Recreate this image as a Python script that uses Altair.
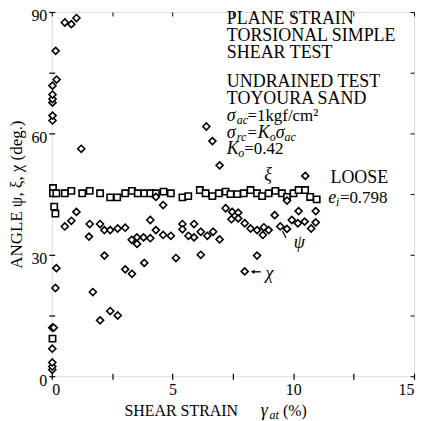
import altair as alt
import pandas as pd

# ---- data ----
xi_x = [0.03, 0.05, 0.05, 0.10, 0.15, 0.19, 0.54, 0.81, 1.26, 1.57, 2.00, 2.42, 2.71, 3.04, 3.32,
        3.56, 3.83, 4.08, 4.31, 4.63, 4.93, 5.41, 5.65, 6.13, 6.37, 6.65, 6.92, 7.20, 7.40, 7.68,
        7.95, 8.23, 8.50, 8.71, 8.98, 9.26, 9.53, 9.74, 10.01, 10.22, 10.49, 10.70, 10.97]
xi_y = [9.3, 46.5, 45.2, 41.9, 40.2, 45.2, 45.2, 45.8, 45.2, 45.8, 45.2, 44.2, 44.2, 45.2, 45.8,
        45.2, 45.2, 45.2, 45.2, 45.6, 45.2, 44.2, 44.5, 46.0, 45.2, 44.5, 45.2, 45.6, 45.0, 45.0,
        45.2, 46.0, 45.2, 44.5, 45.2, 45.8, 45.2, 44.3, 45.2, 46.0, 46.0, 44.3, 43.7]

psi_x = [0.54, 0.81, 1.02, 1.54, 1.57, 2.00, 2.18, 2.42, 2.73, 3.04, 3.31, 3.53, 3.53, 3.80, 4.08,
         4.08, 4.31, 4.31, 4.61, 4.61, 4.93, 5.41, 5.41, 5.66, 5.89, 5.89, 6.17, 6.44, 6.68, 6.95,
         7.20, 7.44, 7.47, 7.72, 7.72, 7.99, 8.23, 8.50, 8.74, 8.78, 8.98, 9.23, 9.46, 9.74, 9.74,
         9.94, 10.19, 10.22, 10.47, 10.74, 10.93, 10.93]
psi_y = [37.0, 38.4, 40.6, 34.5, 37.6, 37.6, 36.1, 36.1, 36.5, 36.7, 33.7, 34.3, 32.7, 34.3, 34.1,
         38.6, 36.1, 44.3, 34.9, 42.3, 34.7, 37.6, 36.3, 34.7, 37.6, 34.3, 35.7, 34.7, 35.7, 33.8,
         41.5, 38.8, 40.6, 40.4, 39.0, 37.8, 36.5, 36.1, 34.9, 36.8, 36.1, 39.8, 37.0, 36.4, 43.4,
         38.6, 37.8, 40.8, 38.2, 36.5, 38.0, 40.8]

chi_x = [0.02, 0.02, 0.02, 0.02, 0.02, 0.08, 0.15, 0.19, 0.03, 0.03, 0.03, 0.03, 0.03, 0.03,
         0.20, 0.16, 0.54, 0.81, 1.02, 1.22, 1.70, 2.00, 2.18, 2.42, 2.73, 3.04, 3.32, 3.83, 5.14,
         6.17, 6.40, 6.65, 6.95, 7.99, 8.50, 10.50]
chi_y = [1.6, 2.4, 3.4, 6.8, 12.0, 12.0, 21.8, 26.7, 63.2, 64.4, 67.6, 68.5, 69.6, 71.8,
         73.3, 80.4, 87.4, 87.0, 88.5, 56.2, 20.8, 13.8, 29.8, 16.1, 15.0, 26.4, 25.3, 28.0, 29.2,
         30.0, 61.7, 58.1, 52.1, 25.9, 29.8, 49.5]

x_ticks = [0, 2.5, 5, 7.5, 10, 12.5, 15]
y_ticks = [0, 15, 30, 45, 60, 75, 90]

# annotations (data units)
caps_text = ["PLANE STRAIN", "TORSIONAL SIMPLE", "SHEAR TEST", "UNDRAINED TEST", "TOYOURA SAND",
             "LOOSE"]
caps_x = [7.25, 7.25, 7.25, 7.25, 7.25, 11.54]
caps_y = [88.3, 84.1, 79.9, 72.6, 68.4, 48.9]

form_text = ["=1kgf/cm²", "=", "=0.42", "=0.798"]
form_x = [8.10, 8.10, 7.97, 11.93]
form_y = [64.2, 60.2, 56.1, 44.0]

ital_text = ["σ", "σ", "K", "σ", "K", "e", "ξ", "ψ", "χ", "γ"]
ital_x = [7.25, 7.25, 8.53, 9.27, 7.25, 11.45, 8.80, 10.02, 8.85, 8.65]
ital_y = [64.2, 60.2, 60.2, 60.2, 56.1, 44.0, 49.7, 32.9, 25.3, -8.6]

sub_text = ["ac", "rc", "o", "ac", "o", "i", "at"]
sub_x = [7.66, 7.66, 9.03, 9.64, 7.72, 11.77, 9.02]
sub_y = [64.2, 60.2, 60.2, 60.2, 56.1, 44.0, -8.6]

xt_text = ["SHEAR STRAIN", "(%)"]
xt_x = [3.01, 9.57]
xt_y = [-8.6, -8.6]

FONT = "Liberation Serif"

pts_xi = pd.DataFrame({"x": xi_x, "y": xi_y})
pts_d = pd.DataFrame({"x": psi_x + chi_x, "y": psi_y + chi_y})

xs = alt.Scale(domain=[0, 15], nice=False, zero=False)
ys = alt.Scale(domain=[0, 90], nice=False, zero=False)

x_axis = alt.Axis(values=x_ticks, labelExpr="datum.value % 5 == 0 ? datum.label : ''",
                  domain=False, grid=False, tickSize=6, offset=-3, tickColor="black",
                  tickWidth=1.2, labelFont=FONT, labelFontSize=16, labelColor="black",
                  labelPadding=2, title=None)
y_axis = alt.Axis(values=y_ticks, labelExpr="datum.value % 30 == 0 ? datum.label : ''",
                  domain=False, grid=False, tickSize=6, offset=-3, tickColor="black",
                  tickWidth=1.2, labelFont=FONT, labelFontSize=16, labelColor="black",
                  labelPadding=2, labelOffset=4,
                  title="ANGLE  ψ, ξ, χ  (deg.)", titleFont=FONT,
                  titleFontSize=17, titleFontWeight="normal", titleColor="black",
                  titlePadding=5)


def XN():
    return alt.X("x:Q", scale=xs, axis=None)


def YN():
    return alt.Y("y:Q", scale=ys, axis=None)


squares = alt.Chart(pts_xi).mark_point(shape="square", size=40, filled=True, fill="white",
                                        stroke="black", strokeWidth=1.6, opacity=1).encode(
    x=alt.X("x:Q", scale=xs, axis=x_axis),
    y=alt.Y("y:Q", scale=ys, axis=y_axis),
)

diamonds = alt.Chart(pts_d).mark_point(shape="diamond", size=50, filled=True, fill="white",
                                       stroke="black", strokeWidth=1.6, opacity=1).encode(
    x=XN(), y=YN())

# top/right tick-only axes
frame_ticks = alt.Chart(pts_xi).mark_point(opacity=0).encode(
    x=alt.X("x:Q", scale=xs, axis=alt.Axis(orient="top", values=x_ticks, labels=False,
                                          domain=False, grid=False, tickSize=4, offset=-4,
                                          tickColor="black", title=None)),
    y=alt.Y("y:Q", scale=ys, axis=alt.Axis(orient="right", values=y_ticks, labels=False,
                                          domain=False, grid=False, tickSize=4, offset=-4,
                                          tickColor="black", title=None)),
)

caps = alt.Chart(pd.DataFrame({"x": caps_x, "y": caps_y, "t": caps_text})).mark_text(
    align="left", baseline="middle", font=FONT, fontSize=18, color="black").encode(
    x=XN(), y=YN(), text="t:N")

form = alt.Chart(pd.DataFrame({"x": form_x, "y": form_y, "t": form_text})).mark_text(
    align="left", baseline="middle", font=FONT, fontSize=17, color="black").encode(
    x=XN(), y=YN(), text="t:N")

ital = alt.Chart(pd.DataFrame({"x": ital_x, "y": ital_y, "t": ital_text})).mark_text(
    align="left", baseline="middle", font=FONT, fontSize=18, fontStyle="italic",
    color="black").encode(
    x=XN(), y=YN(), text="t:N")

subs = alt.Chart(pd.DataFrame({"x": sub_x, "y": sub_y, "t": sub_text})).mark_text(
    align="left", baseline="middle", dy=4, font=FONT, fontSize=12, fontStyle="italic",
    color="black").encode(
    x=XN(), y=YN(), text="t:N")

xtitle = alt.Chart(pd.DataFrame({"x": xt_x, "y": xt_y, "t": xt_text})).mark_text(
    align="left", baseline="middle", font=FONT, fontSize=16, color="black").encode(
    x=XN(), y=YN(), text="t:N")

# pointers for chi and psi labels
ptr_x1 = [8.65, 9.55]
ptr_x2 = [8.32, 9.70]
ptr_y1 = [25.8, 35.9]
ptr_y2 = [25.8, 34.2]
pointers = alt.Chart(pd.DataFrame({"x": ptr_x1, "x2": ptr_x2, "y": ptr_y1, "y2": ptr_y2})).mark_rule(
    color="black", strokeWidth=1.3).encode(
    x=XN(), x2="x2:Q", y=YN(), y2="y2:Q")
head = alt.Chart(pd.DataFrame({"x": [8.32], "y": [25.8]})).mark_point(
    shape="triangle-left", size=18, filled=True, color="black", opacity=1).encode(
    x=XN(), y=YN())

chart = alt.layer(squares, frame_ticks, diamonds, caps, form, ital, subs, xtitle, pointers,
                  head).resolve_axis(
    x="independent", y="independent"
).properties(
    width=364, height=366,
    autosize=alt.AutoSizeParams(type="none"),
    padding={"left": 44, "top": 3, "right": 4, "bottom": 44},
).configure_view(stroke="black", strokeWidth=2).configure(background="white")

chart.save("out.html", embed_options={"renderer": "svg", "actions": False})
